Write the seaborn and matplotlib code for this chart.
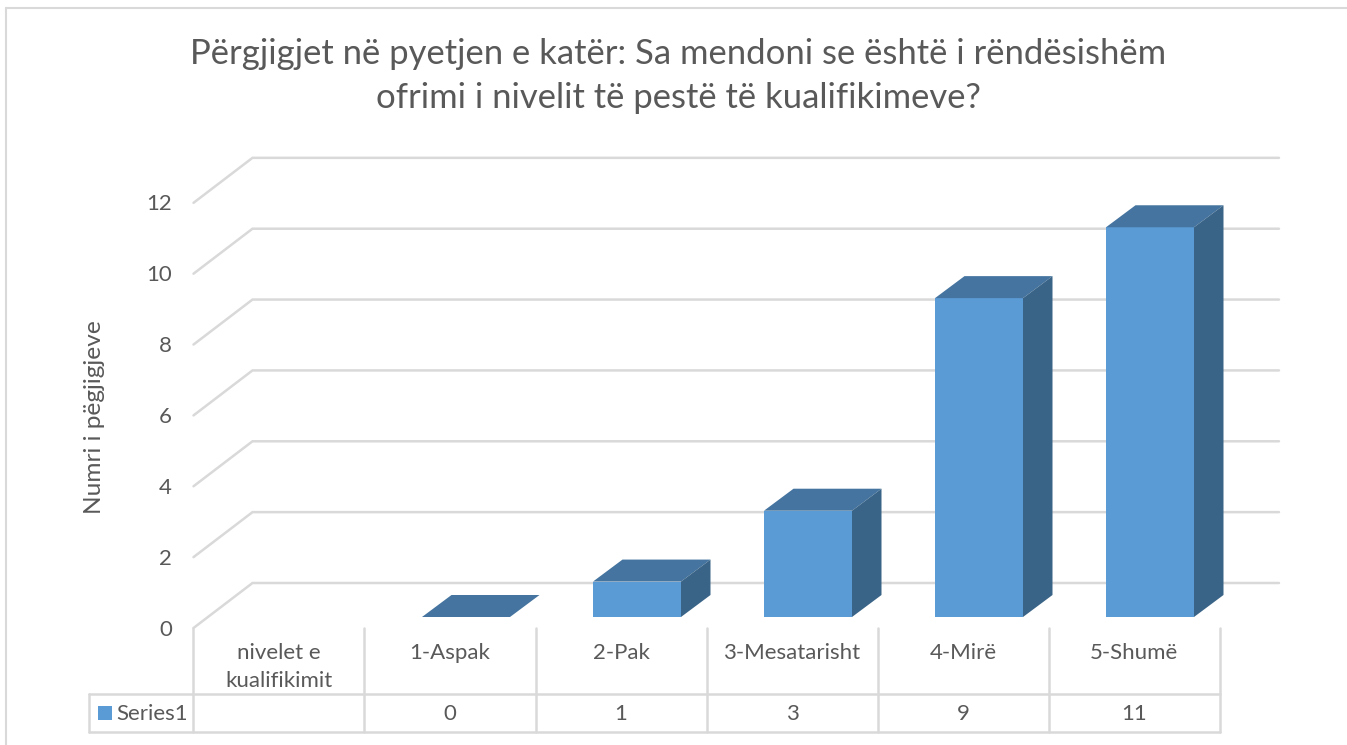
import matplotlib
matplotlib.use('Agg')
import matplotlib.pyplot as plt
import numpy as np
import pandas as pd
import seaborn as sns

categories = ['nivelet e\nkualifikimit', '1-Aspak', '2-Pak', '3-Mesatarisht', '4-Mirë', '5-Shumë']
values = [np.nan, 0, 1, 3, 9, 11]
table_values = ['', '0', '1', '3', '9', '11']
y_ticks = [0, 2, 4, 6, 8, 10, 12]
title = 'Përgjigjet në pyetjen e katër: Sa mendoni se është i rëndësishëm\nofrimi i nivelit të pestë të kualifikimeve?'
y_label = 'Numri i pëgjigjeve'
series_name = 'Series1'

W, H = 1347, 745
TEXT = '#595959'
LINE = '#D9D9D9'
FRONT = '#5B9BD5'
TOP = '#44749F'
SIDE = '#3A6487'

# pixel layout of the fake 3D box
PX_UNIT = 35.43
PX_CAT = 171.0
BAR0_X = 295.0      # centre of the first bar front
BAR_Y0 = 617.0      # bar front baseline
BAR_W = 88 / PX_CAT
BAR_DX, BAR_DY = 29.5 / PX_CAT, 22 / PX_UNIT
FLOOR_FRONT_Y = 628.0
WALL_DX, WALL_DY = 59.0, 45.0
WALL_RIGHT = 1279.0
TABLE_LEFT = 193.5
TABLE_COLS = 6
FS = 16


def dx(px):
    return (px - BAR0_X) / PX_CAT


def dy(px):
    return (BAR_Y0 - px) / PX_UNIT


sns.set_theme(style='white')
plt.rcParams['font.family'] = ['Lato', 'DejaVu Sans']

fig = plt.figure(figsize=(W / 100, H / 100), dpi=100)
ax = fig.add_axes([0, 0, 1, 1])

df = pd.DataFrame({'nivel': categories, 'vlera': values})
sns.barplot(data=df, x='nivel', y='vlera', order=categories, color=FRONT, saturation=1,
            width=BAR_W, ax=ax, zorder=3, linewidth=0)
ax.set_xlim(dx(0), dx(W))
ax.set_ylim(dy(H), dy(0))
ax.axis('off')

# top and side faces of the bars
for i, v in enumerate(values):
    if np.isnan(v):
        continue
    l, r = i - BAR_W / 2, i + BAR_W / 2
    ax.fill([l, r, r + BAR_DX, l + BAR_DX], [v, v, v + BAR_DY, v + BAR_DY], color=TOP, lw=0, zorder=4)
    ax.fill([r, r + BAR_DX, r + BAR_DX, r], [0, BAR_DY, v + BAR_DY, v], color=SIDE, lw=0, zorder=4)

# walls and y axis labels
front_x = dx(TABLE_LEFT)
back_x = dx(TABLE_LEFT + WALL_DX)
right_x = dx(WALL_RIGHT)
for t in y_ticks:
    fy = dy(FLOOR_FRONT_Y) + t
    by = dy(FLOOR_FRONT_Y - WALL_DY) + t
    ax.plot([front_x, back_x, right_x], [fy, by, by], color=LINE, lw=1.8, zorder=1, solid_joinstyle='miter')
    ax.text(dx(172), fy - 1.5 / PX_UNIT, str(t), ha='right', va='center', fontsize=FS, color=TEXT)

# data table under the chart
col_x = [front_x + i for i in range(TABLE_COLS + 1)]
table_top = dy(FLOOR_FRONT_Y)
row_mid = dy(694)
row_bot = dy(732)
left_box = dx(89.5)
for x in col_x:
    ax.plot([x, x], [table_top, row_bot], color=LINE, lw=1.8, zorder=1)
ax.plot([left_box, col_x[-1]], [row_mid, row_mid], color=LINE, lw=1.8, zorder=1)
ax.plot([left_box, col_x[-1]], [row_bot, row_bot], color=LINE, lw=1.8, zorder=1)
ax.plot([left_box, left_box], [row_mid, row_bot], color=LINE, lw=1.8, zorder=1)
for i, (cat, val) in enumerate(zip(categories, table_values)):
    cx = col_x[i] + 0.5
    ax.text(cx, dy(643), cat, ha='center', va='top', fontsize=FS, color=TEXT, linespacing=1.5)
    ax.text(cx, dy(714), val, ha='center', va='center', fontsize=FS, color=TEXT)
ax.fill([dx(98), dx(112), dx(112), dx(98)], [dy(706), dy(706), dy(720), dy(720)], color=FRONT, lw=0)
ax.text(dx(116), dy(714), series_name, ha='left', va='center', fontsize=FS, color=TEXT)

# chart frame
ax.plot([dx(6), dx(6)], [dy(H), dy(8)], color=LINE, lw=1.5)
ax.plot([dx(6), dx(W)], [dy(8), dy(8)], color=LINE, lw=1.5)

ax.text(dx(678), dy(76), title, ha='center', va='center', fontsize=24.9, color=TEXT, linespacing=1.5)
ax.text(dx(95), dy(417), y_label, rotation=90, ha='center', va='center', fontsize=17.6, color=TEXT)

fig.savefig('out.png', dpi=100)
plt.close(fig)
